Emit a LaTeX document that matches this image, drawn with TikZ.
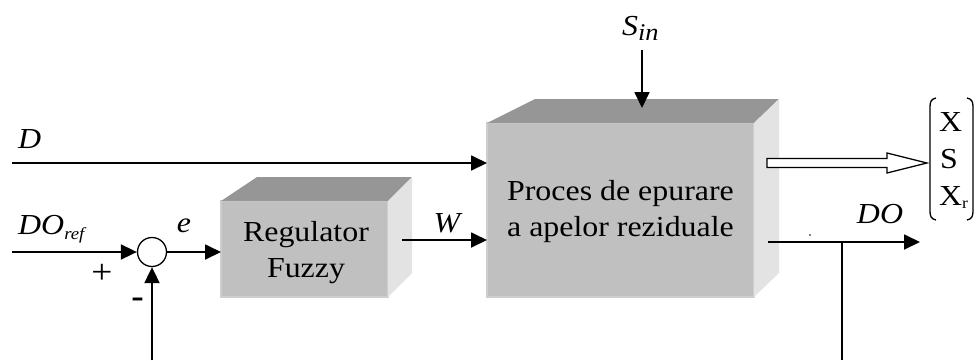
\documentclass[tikz,border=0pt]{standalone}
\usepackage{fontspec}
\setmainfont[FakeStretch=1.1]{Liberation Serif}
\usetikzlibrary{arrows.meta}
\definecolor{frontc}{RGB}{192,192,192}
\definecolor{topc}{RGB}{150,150,150}
\definecolor{sidec}{RGB}{227,227,227}
\definecolor{edgec}{RGB}{206,206,206}
\begin{document}
\begin{tikzpicture}[x=1pt,y=-1pt,
  arr/.style={line width=1.8pt,-{Triangle[length=16pt,width=15pt]}},
  thinln/.style={line width=1.5pt},
  box/.style={fill=frontc, draw=edgec, line width=1.2pt, inner sep=0pt, outer sep=0pt},
  txt/.style={font=\fontsize{29}{32}\selectfont, inner sep=0pt, anchor=base},
  lbl/.style={font=\fontsize{29}{32}\selectfont\itshape, inner sep=0pt, anchor=base west},
  ]
\useasboundingbox (0,0) rectangle (978,360);

% Regulator block
\node[box, minimum width=167pt, minimum height=96pt] (reg) at (304.5,249) {};
\fill[topc] (reg.north west) -- ++(36,-24) -- ++(155,0) -- (reg.north east) -- cycle;
\fill[sidec] (reg.north east) -- ++(24,-24) -- ++(0,96) -- (reg.south east) -- cycle;
\node[txt] (regA) at (306,241) {Regulator};
\node[txt] (regB) at (306,277) {Fuzzy};

% Process block
\node[box, minimum width=267pt, minimum height=174pt] (proc) at (620.5,210) {};
\fill[topc] (proc.north west) -- ++(48,-24) -- ++(244,0) -- (proc.north east) -- cycle;
\fill[sidec] (proc.north east) -- ++(25,-24) -- ++(0,174) -- (proc.south east) -- cycle;
\node[txt] (procA) at (620.5,200) {Proces de epurare};
\node[txt] (procB) at (620.5,236) {a apelor reziduale};

% summing junction
\node[circle, draw, line width=1.3pt, minimum size=29pt, inner sep=0pt] (sum) at (152,252) {};

% coordinates
\coordinate (din) at (12,163);
\coordinate (dorefin) at (12,252);
\coordinate (wstart) at (402,240);
\coordinate (sinstart) at (642,50);
\coordinate (sintip) at (642,108);
\coordinate (dostart) at (768,242);
\coordinate (doend) at (920,242);
\coordinate (branch) at (842,242);
\coordinate (fbbottom) at (842,360);
\coordinate (fbleft) at (152,360);

% connectors
\draw[arr] (din) -- (din -| proc.west);
\draw[arr] (dorefin) -- (sum.west);
\draw[arr] (sum.east) -- (sum.east -| reg.west);
\draw[arr] (wstart) -- (wstart -| proc.west);
\draw[arr] (sinstart) -- (sintip);
\draw[arr] (dostart) -- (doend);
\draw[thinln] (branch) -- (fbbottom);
\draw[arr] (fbleft) -- (sum.south);
\fill (810,235) circle (0.8pt);

% hollow arrow
\draw[line width=1.3pt, fill=white] (767,158.5) -- (887,158.5) -- (887,153) -- (927,163) -- (887,173) -- (887,167.5) -- (767,167.5) -- cycle;

% output vector
\node[txt, anchor=base west] (vx) at (939,131) {X};
\node[txt, anchor=base west] (vs) at (940,168) {S};
\node[txt, anchor=base west] (vxr) at (939,205) {X\raisebox{-3pt}{\fontsize{16}{16}\selectfont r}};
\draw[line width=1.3pt] (936,98) .. controls (931,99) and (930,102) .. (930,107) -- (930,211) .. controls (930,216) and (931,219) .. (936,220);
\draw[line width=1.3pt] (967,98) .. controls (972,99) and (973,102) .. (973,107) -- (973,211) .. controls (973,216) and (972,219) .. (967,220);

% labels
\node[lbl] (lD) at (18,148) {D};
\node[lbl] (lDOref) at (18,234) {DO\raisebox{-5pt}{\fontsize{17}{17}\selectfont ref}};
\node[lbl, anchor=base] (le) at (184,232) {e};
\node[txt, font=\fontsize{34}{36}\selectfont] (lplus) at (102,283.5) {+};
\node[txt, font=\fontsize{34}{36}\selectfont\bfseries] (lminus) at (137.5,307.5) {-};
\node[lbl, anchor=base] (lW) at (447,232) {W};
\node[lbl] (lS) at (622,35) {S\raisebox{-5pt}{\fontsize{24}{24}\selectfont in}};
\node[lbl, anchor=base] (lDO) at (880,223) {DO};
\end{tikzpicture}
\end{document}
